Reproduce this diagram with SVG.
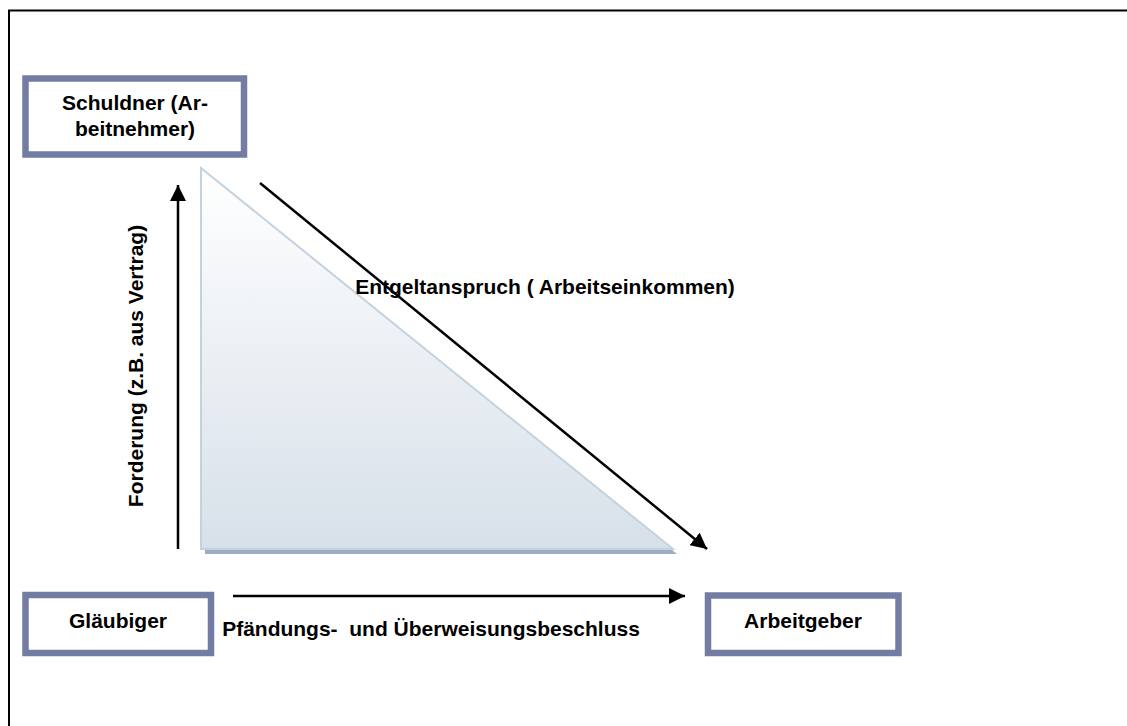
<svg xmlns="http://www.w3.org/2000/svg" width="1127" height="726" viewBox="0 0 1127 726">
<defs>
<linearGradient id="triFill" x1="0" y1="0" x2="0" y2="1">
<stop offset="0" stop-color="#ffffff"/>
<stop offset="1" stop-color="#d7e0e9"/>
</linearGradient>
<marker id="arrow" viewBox="0 0 10 10" refX="10" refY="5" markerWidth="16" markerHeight="16" markerUnits="userSpaceOnUse" orient="auto">
<path d="M0,0 L10,5 L0,10 Z" fill="#000"/>
</marker>
<style>
.box{fill:#ffffff;stroke:#737ca2;stroke-width:6.5}
.lbl{font-family:"Liberation Sans",Arial,sans-serif;font-weight:bold;font-size:21px;fill:#000}
.conn{stroke:#000;stroke-width:2.5;fill:none;marker-end:url(#arrow)}
</style>
</defs>
<rect width="1127" height="726" fill="#ffffff"/>
<rect x="9" y="10.5" width="1130" height="730" fill="none" stroke="#000" stroke-width="2"/>
<g id="triangle">
<polygon points="205,172 205,554 677,554" fill="#9dadbf"/>
<polygon points="201,168 201,549 673,549" fill="url(#triFill)" stroke="#c3d2df" stroke-width="2"/>
</g>
<g id="connectors">
<line class="conn" x1="178" y1="549" x2="178" y2="185"/>
<line class="conn" x1="260" y1="183" x2="707" y2="549"/>
<line class="conn" x1="233" y1="596" x2="685" y2="596"/>
<text class="lbl" x="545" y="294" text-anchor="middle">Entgeltanspruch ( Arbeitseinkommen)</text>
<text class="lbl" x="431" y="636" text-anchor="middle" xml:space="preserve">Pfändungs-  und Überweisungsbeschluss</text>
<text class="lbl" transform="translate(143,366) rotate(-90)" text-anchor="middle">Forderung (z.B. aus Vertrag)</text>
</g>
<g id="schuldner">
<rect class="box" x="25.5" y="78.5" width="218.5" height="76"/>
<text class="lbl" x="135" y="110" text-anchor="middle">Schuldner (Ar-</text>
<text class="lbl" x="135" y="136" text-anchor="middle">beitnehmer)</text>
</g>
<g id="glaeubiger">
<rect class="box" x="25.5" y="595" width="185.5" height="58"/>
<text class="lbl" x="118" y="628" text-anchor="middle">Gläubiger</text>
</g>
<g id="arbeitgeber">
<rect class="box" x="708" y="595.5" width="190.5" height="57.5"/>
<text class="lbl" x="803" y="628" text-anchor="middle">Arbeitgeber</text>
</g>
</svg>
